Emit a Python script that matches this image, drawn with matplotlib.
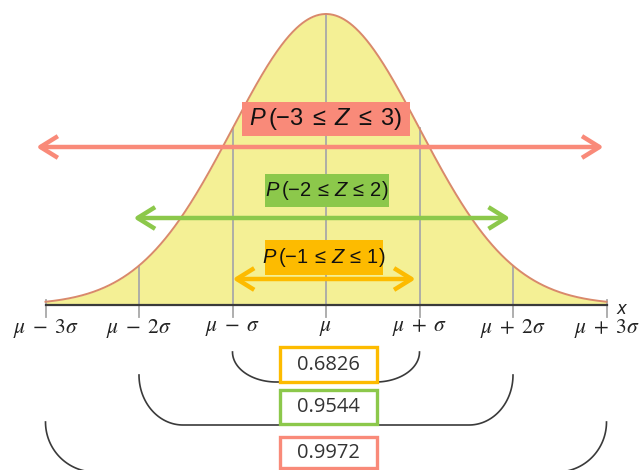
import numpy as np
import matplotlib.pyplot as plt
from matplotlib.patches import Rectangle

plt.rcParams['mathtext.fontset'] = 'custom'
plt.rcParams['mathtext.rm'] = 'Liberation Sans'
plt.rcParams['mathtext.it'] = 'Liberation Sans:italic'

# --- data ---------------------------------------------------------------
sigma_steps = [-3, -2, -1, 0, 1, 2, 3]
tick_labels = [r'$\mu\;-\;3\sigma$', r'$\mu\;-\;2\sigma$', r'$\mu\;-\;\sigma$', r'$\mu$',
               r'$\mu\;+\;\sigma$', r'$\mu\;+\;2\sigma$', r'$\mu\;+\;3\sigma$']
interval_k = [1, 2, 3]
interval_labels = [r'$P\,(-1\,\leq\,Z\,\leq\,1)$', r'$P\,(-2\,\leq\,Z\,\leq\,2)$',
                   r'$P\,(-3\;\leq\;Z\;\leq\;3)$']
interval_probs = ['0.6826', '0.9544', '0.9972']
interval_colors = ['#fdbb00', '#8cc84b', '#f98a79']

# --- styling / layout ---------------------------------------------------
FILL = '#f4f095'
CURVE = '#d9896b'
GRID = '#a8a8a8'
INK = '#3a3a3a'
PEAK = 291.0          # curve height above baseline (vertical units)
PX = 93.5             # horizontal units per sigma

fig = plt.figure(figsize=(6.4, 4.7), dpi=100)
ax = fig.add_axes([0, 0, 1, 1])
ax.set_xlim(-326 / PX, 314 / PX)
ax.set_ylim(-165, 305)
ax.axis('off')

z = np.linspace(-3, 3, 600)
y = PEAK * np.exp(-z ** 2 / 2)

ax.fill_between(z, 0, y, color=FILL, lw=0, zorder=1)
ax.plot(z, y, color=CURVE, lw=1.4, zorder=3)

# vertical guides from just below the axis up to the curve
for k in sigma_steps:
    top = PEAK * np.exp(-k ** 2 / 2)
    ax.plot([k, k], [-12, max(top, 5)], color=GRID, lw=1.3, zorder=2)

ax.plot([-3, 3], [0, 0], color=INK, lw=1.6, zorder=4)

for k, lab in zip(sigma_steps, tick_labels):
    ax.text(k, -23, lab, ha='center', va='center', fontsize=15.5,
            math_fontfamily='stix', color='#222222')
ax.text(3.16, -4, 'x', ha='center', va='center', fontsize=12,
        style='italic', color='#222222')

# double-headed arrows with labelled boxes
arrow_y = {1: 26, 2: 87, 3: 158}
arrow_span = {1: (-1.0, 0.96), 2: (-2.06, 1.97), 3: (-3.1, 2.97)}
label_cy = {1: 305 - 257.5, 2: 305 - 190.5, 3: 305 - 119}
label_w = {1: 118 / PX, 2: 124 / PX, 3: 168 / PX}
label_h = {1: 35, 2: 33, 3: 34}
label_cx = {1: -0.02, 2: 0.01, 3: 0.0}
label_fs = {1: 14.5, 2: 14.5, 3: 17}

for k, lab, col in zip(interval_k, interval_labels, interval_colors):
    x0, x1 = arrow_span[k]
    ax.annotate('', xy=(x1, arrow_y[k]), xytext=(x0, arrow_y[k]),
                arrowprops=dict(arrowstyle='<->,head_length=0.42,head_width=0.26',
                                color=col, lw=3.2, mutation_scale=30,
                                shrinkA=0, shrinkB=0, capstyle='butt'),
                zorder=5)
    w, h = label_w[k], label_h[k]
    cx, cy = label_cx[k], label_cy[k]
    ax.add_patch(Rectangle((cx - w / 2, cy - h / 2), w, h, facecolor=col,
                           edgecolor='none', zorder=6))
    ax.text(cx, cy, lab, ha='center', va='center', fontsize=label_fs[k],
            color='#111111', zorder=7)

# brackets under the axis, with the probability boxes
bracket = {1: (-47, -77, 0.47), 2: (-70, -120, 0.47), 3: (-117, -167, 0.53)}
prob_box = {1: (-42, -77), 2: (-85, -119), 3: (-132, -163)}


def bracket_path(k, top, bot, rx):
    ry = top - bot
    t = np.linspace(0, np.pi / 2, 40)
    left = np.column_stack([-k + rx - rx * np.cos(t), top - ry * np.sin(t)])
    right = np.column_stack([k - rx + rx * np.sin(t), bot + ry * (1 - np.cos(t))])
    return np.vstack([left, right])


for k, prob, col in zip(interval_k, interval_probs, interval_colors):
    top, bot, rx = bracket[k]
    pts = bracket_path(k, top, bot, rx)
    ax.plot(pts[:, 0], pts[:, 1], color=INK, lw=1.2, zorder=4, clip_on=False)
    btop, bbot = prob_box[k]
    w = 97 / PX
    cx = 0.025
    ax.add_patch(Rectangle((cx - w / 2, bbot), w, btop - bbot, facecolor='white',
                           edgecolor=col, lw=2.4, zorder=6))
    ax.text(cx, (btop + bbot) / 2, prob, ha='center', va='center', fontsize=14.5,
            family='Open Sans', color='#333333', zorder=7)

fig.savefig('out.png', dpi=100)
